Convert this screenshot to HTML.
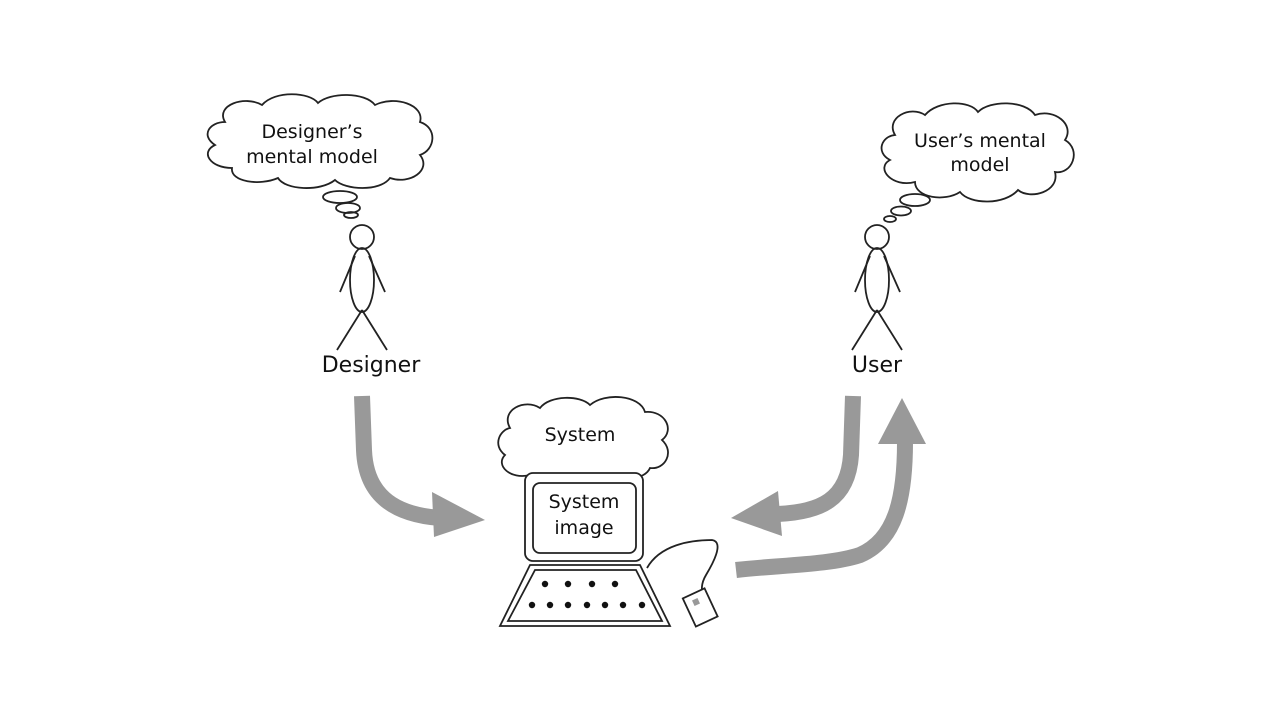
<!DOCTYPE html>
<html><head><meta charset="utf-8"><style>
html,body{margin:0;padding:0;background:#fff;width:1280px;height:720px;overflow:hidden}
text{font-family:"DejaVu Sans","Liberation Sans",sans-serif;fill:#111}
</style></head><body>
<svg width="1280" height="720" viewBox="0 0 1280 720" xmlns="http://www.w3.org/2000/svg">
<g fill="none" stroke="#222" stroke-width="1.8">
<path d="M225,122 C215,105 245,95 262,105 C275,90 310,92 318,103 C330,92 365,92 375,105 C395,95 425,105 420,122 C438,128 435,150 420,155 C432,170 410,185 390,178 C380,192 345,190 335,180 C320,192 285,190 278,178 C260,186 230,182 232,168 C210,168 200,152 215,145 C200,135 210,122 225,122 Z" fill="#fff"/>
<ellipse cx="340" cy="197" rx="17" ry="6"/>
<ellipse cx="348" cy="208" rx="12" ry="5"/>
<ellipse cx="351" cy="215" rx="7" ry="3"/>
<path d="M895,135 C885,118 910,105 925,115 C938,100 970,100 978,112 C990,100 1025,100 1035,115 C1055,108 1075,125 1065,140 C1082,150 1072,175 1055,172 C1060,192 1030,200 1018,190 C1005,205 970,205 960,192 C945,202 915,198 915,182 C892,188 875,168 890,160 C875,152 882,136 895,135 Z" fill="#fff"/>
<ellipse cx="915" cy="200" rx="15" ry="6"/>
<ellipse cx="901" cy="211" rx="10" ry="4.5"/>
<ellipse cx="890" cy="219" rx="6" ry="3"/>
<circle cx="362" cy="237" r="12"/>
<ellipse cx="362" cy="280" rx="12" ry="32"/>
<path d="M355,256 L340,292 M369,256 L385,292 M362,310 L337,350 M362,310 L387,350"/>
<circle cx="877" cy="237" r="12"/>
<ellipse cx="877" cy="280" rx="12" ry="32"/>
<path d="M870,256 L855,292 M884,256 L900,292 M877,310 L852,350 M877,310 L902,350"/>
<path d="M510,428 C500,410 525,398 540,408 C550,395 580,395 590,405 C605,392 640,395 645,412 C665,410 675,430 662,440 C675,452 665,470 650,468 C645,480 620,482 610,475 L530,475 C510,480 495,465 505,455 C492,445 500,430 510,428 Z" fill="#fff"/>
<rect x="525" y="473" width="118" height="88" rx="8" fill="#fff"/>
<rect x="533" y="483" width="103" height="70" rx="7"/>
<path d="M530,565 L640,565 L670,626 L500,626 Z" fill="#fff"/>
<path d="M535,570 L636,570 L662,621 L508,621 Z"/>
<path d="M647,568 C660,545 690,540 712,540 C725,542 712,565 706,575 C700,585 702,592 703,597"/>
<rect x="688" y="592" width="24" height="31" transform="rotate(-25 700 607)" fill="#fff"/>
</g>
<rect x="693" y="599" width="6" height="6" fill="#999" transform="rotate(-25 696 602)"/>
<g fill="#111">
<circle cx="545" cy="584" r="3.2"/><circle cx="568" cy="584" r="3.2"/><circle cx="592" cy="584" r="3.2"/><circle cx="615" cy="584" r="3.2"/>
<circle cx="532" cy="605" r="3.2"/><circle cx="550" cy="605" r="3.2"/><circle cx="568" cy="605" r="3.2"/><circle cx="587" cy="605" r="3.2"/><circle cx="605" cy="605" r="3.2"/><circle cx="623" cy="605" r="3.2"/><circle cx="642" cy="605" r="3.2"/>
</g>
<g stroke="#999" stroke-width="16" fill="none">
<path d="M362,396 L364,450 C366,500 400,515 440,518"/>
<path d="M853,396 L851,455 C848,500 820,512 778,514"/>
<path d="M736,570 C780,565 830,565 860,555 C895,540 905,500 905,442"/>
</g>
<g fill="#999">
<path d="M432,492 L485,520 L434,537 Z"/>
<path d="M778,491 L731,518 L782,536 Z"/>
<path d="M878,444 L902,398 L926,444 Z"/>
</g>
<text x="312" y="138" font-size="19" text-anchor="middle">Designer’s</text>
<text x="312" y="163" font-size="19" text-anchor="middle">mental model</text>
<text x="980" y="147" font-size="19" text-anchor="middle">User’s mental</text>
<text x="980" y="171" font-size="19" text-anchor="middle">model</text>
<text x="371" y="372" font-size="22" text-anchor="middle">Designer</text>
<text x="877" y="372" font-size="22" text-anchor="middle">User</text>
<text x="580" y="441" font-size="19" text-anchor="middle">System</text>
<text x="584" y="508" font-size="19" text-anchor="middle">System</text>
<text x="584" y="534" font-size="19" text-anchor="middle">image</text>
</svg>
</body></html>
